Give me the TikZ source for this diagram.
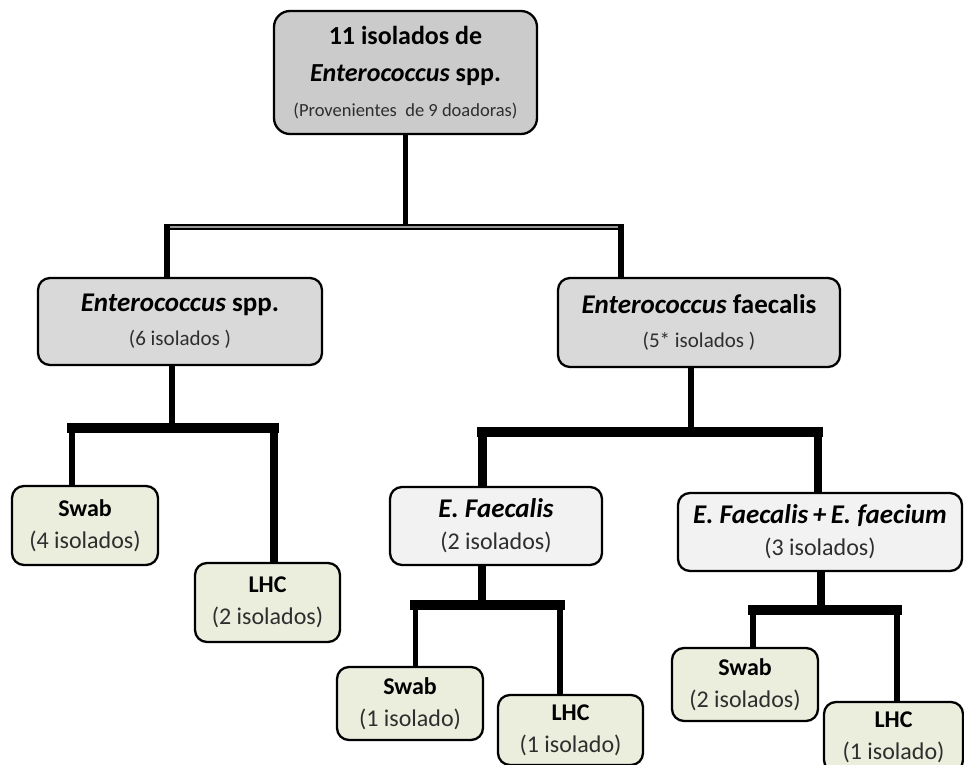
\documentclass[tikz,border=0pt]{standalone}
\usepackage{fontspec}
\setmainfont{Carlito}
\definecolor{topgray}{HTML}{CBCBCB}
\definecolor{midgray}{HTML}{D9D9D9}
\definecolor{efgray}{HTML}{F2F2F2}
\definecolor{leafgreen}{HTML}{EBEEDD}
\definecolor{subgray}{HTML}{2E2E2E}
\definecolor{dblgray}{HTML}{9A9A9A}
\pgfdeclarelayer{bg}
\pgfsetlayers{bg,main}
\tikzset{
  box/.style={draw=black, line width=2.3pt, rounded corners=12pt, align=center, inner sep=1pt},
  leaf/.style={box, fill=leafgreen, font=\fontsize{24}{32}\selectfont},
  conn/.style={line width=#1, line cap=rect},
  conn/.default=6pt,
  barline/.style={line width=10pt, line cap=rect},
  dblbar/.style={line width=1.6pt, double=dblgray, double distance=2.6pt},
}
\begin{document}
\begin{tikzpicture}[x=1pt,y=-1pt]
\useasboundingbox (0,0) rectangle (964,765);

% boxes
\node[box, fill=topgray, rounded corners=16pt, minimum width=263pt, minimum height=123pt,
      font=\fontsize{26}{37}\selectfont] (top) at (405.5,72.5)
  {\bfseries 11 isolados de\\ \bfseries\textit{Enterococcus} spp.\\[-2pt]
   \fontsize{18.5}{22}\selectfont\color{subgray}(Provenientes\ \ de 9 doadoras)};

\node[box, fill=midgray, minimum width=284pt, minimum height=87pt,
      font=\fontsize{27}{34}\selectfont] (espp) at (180,321.5)
  {\bfseries\textit{Enterococcus} spp.\\
   \fontsize{21}{24}\selectfont\color{subgray}(6 isolados )};

\node[box, fill=midgray, minimum width=282pt, minimum height=89pt,
      font=\fontsize{27}{34}\selectfont] (efae) at (699,322.5)
  {\bfseries\textit{Enterococcus} faecalis\\
   \fontsize{21}{24}\selectfont\color{subgray}(5* isolados )};

\node[leaf, minimum width=146pt, minimum height=79pt] (swab1) at (85,525.5)
  {\bfseries Swab\\ \color{subgray}(4 isolados)};
\node[leaf, minimum width=145pt, minimum height=79pt] (lhc1) at (267.5,602.5)
  {\bfseries LHC\\ \color{subgray}(2 isolados)};

\node[box, fill=efgray, minimum width=212pt, minimum height=78pt,
      font=\fontsize{27}{32}\selectfont] (ef) at (496,526)
  {\bfseries\itshape E. Faecalis\\
   \fontsize{24}{28}\selectfont\color{subgray}(2 isolados)};

\node[box, fill=efgray, minimum width=284pt, minimum height=78pt,
      font=\fontsize{27}{32}\selectfont] (efef) at (820,532)
  {\bfseries\itshape E. Faecalis\,+\,E. faecium\\
   \fontsize{24}{28}\selectfont\color{subgray}(3 isolados)};

\node[leaf, minimum width=146pt, minimum height=73pt] (swab2) at (410,703.5)
  {\bfseries Swab\\ \color{subgray}(1 isolado)};
\node[leaf, minimum width=145pt, minimum height=70pt] (lhc2) at (570.5,730)
  {\bfseries LHC\\ \color{subgray}(1 isolado)};
\node[leaf, minimum width=146pt, minimum height=73pt] (swab3) at (745,684.5)
  {\bfseries Swab\\ \color{subgray}(2 isolados)};
\node[leaf, minimum width=139pt, minimum height=70pt] (lhc3) at (893.5,737)
  {\bfseries LHC\\ \color{subgray}(1 isolado)};

% junction coordinates
\coordinate (b1l) at (167,227);
\coordinate (b1r) at (621,227);
\coordinate (b2m) at (172,428);
\coordinate (b2l) at (72,428);
\coordinate (b2r) at (274,428);
\coordinate (b3m) at (691,432);
\coordinate (b3l) at (482,432);
\coordinate (b3r) at (818,432);
\coordinate (b4m) at (482,605);
\coordinate (b4l) at (415,605);
\coordinate (b4r) at (560,605);
\coordinate (b5m) at (821,610);
\coordinate (b5l) at (753,610);
\coordinate (b5r) at (897,610);

\begin{pgfonlayer}{bg}
  % level 1
  \draw[conn=5.5pt] (top.south) -- (top.south |- b1l);
  \draw[dblbar] (b1l) -- (b1r);
  \draw[conn=5.5pt] (b1l) -- (b1l |- espp.north);
  \draw[conn=5.5pt] (b1r) -- (b1r |- efae.north);
  % level 2 left
  \draw[conn=6pt] (b2m |- espp.south) -- (b2m);
  \draw[barline] (b2l) -- (b2r);
  \draw[conn=6pt] (b2l) -- (b2l |- swab1.north);
  \draw[conn=8pt] (b2r) -- (b2r |- lhc1.north);
  % level 2 right
  \draw[conn=6pt] (b3m |- efae.south) -- (b3m);
  \draw[barline] (b3l) -- (b3r);
  \draw[conn=9pt] (b3l) -- (b3l |- ef.north);
  \draw[conn=8pt] (b3r) -- (b3r |- efef.north);
  % level 3 E. Faecalis
  \draw[conn=8pt] (b4m |- ef.south) -- (b4m);
  \draw[barline] (b4l) -- (b4r);
  \draw[conn=5pt] (b4l) -- (b4l |- swab2.north);
  \draw[conn=6pt] (b4r) -- (b4r |- lhc2.north);
  % level 3 E. Faecalis + E. faecium
  \draw[conn=8pt] (b5m |- efef.south) -- (b5m);
  \draw[barline] (b5l) -- (b5r);
  \draw[conn=6pt] (b5l) -- (b5l |- swab3.north);
  \draw[conn=6pt] (b5r) -- (b5r |- lhc3.north);
\end{pgfonlayer}
\end{tikzpicture}
\end{document}
